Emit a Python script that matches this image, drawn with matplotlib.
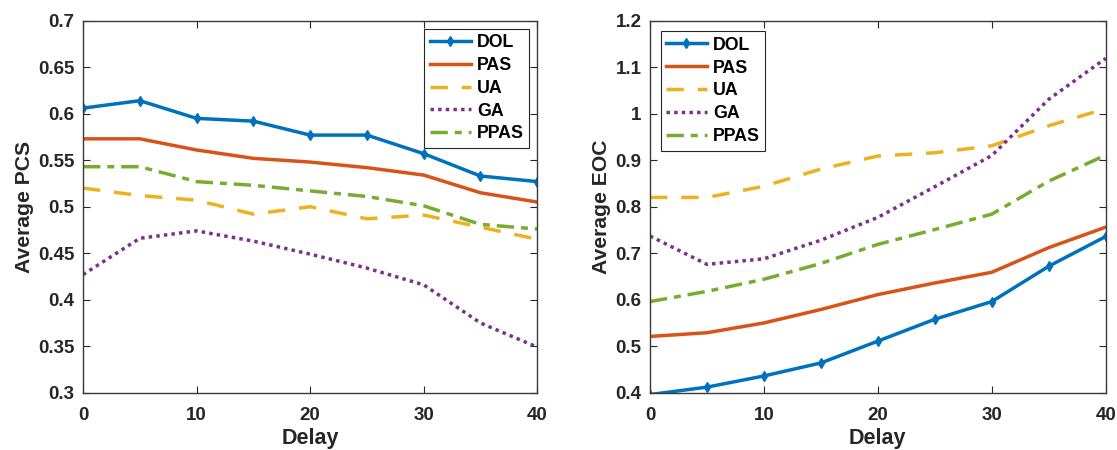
import numpy as np
import matplotlib.pyplot as plt

plt.rcParams['font.family'] = ['Liberation Sans', 'DejaVu Sans']
plt.rcParams['font.weight'] = 'bold'

delay = [0, 5, 10, 15, 20, 25, 30, 35, 40]
labels = ['DOL', 'PAS', 'UA', 'GA', 'PPAS']

# average PCS per delay
pcs_dol = [0.606, 0.614, 0.595, 0.592, 0.577, 0.577, 0.557, 0.533, 0.527]
pcs_pas = [0.573, 0.573, 0.561, 0.552, 0.548, 0.542, 0.534, 0.515, 0.505]
pcs_ua = [0.520, 0.512, 0.507, 0.492, 0.500, 0.487, 0.491, 0.478, 0.465]
pcs_ga = [0.427, 0.466, 0.474, 0.463, 0.449, 0.434, 0.416, 0.375, 0.349]
pcs_ppas = [0.543, 0.543, 0.527, 0.523, 0.517, 0.511, 0.501, 0.481, 0.476]

# average EOC per delay
eoc_dol = [0.396, 0.412, 0.436, 0.464, 0.511, 0.558, 0.596, 0.672, 0.736]
eoc_pas = [0.521, 0.529, 0.550, 0.579, 0.611, 0.636, 0.659, 0.712, 0.756]
eoc_ua = [0.820, 0.820, 0.844, 0.881, 0.909, 0.916, 0.931, 0.974, 1.011]
eoc_ga = [0.737, 0.676, 0.688, 0.728, 0.777, 0.843, 0.910, 1.031, 1.119]
eoc_ppas = [0.596, 0.618, 0.644, 0.678, 0.719, 0.751, 0.784, 0.855, 0.911]

colors = ['#0072BD', '#D95319', '#EDB120', '#7E2F8E', '#77AC30']
styles = [dict(ls='-', marker='d', ms=5),
          dict(ls='-'),
          dict(ls=(0, (5, 4))),
          dict(ls=(0, (1, 1.2))),
          dict(ls=(0, (5, 2, 2, 2)))]

fig = plt.figure(figsize=(11.17, 4.5), dpi=100)
ax1 = fig.add_axes([0.0743, 0.1273, 0.4067, 0.8267])
ax2 = fig.add_axes([0.5819, 0.1273, 0.4080, 0.8267])


def draw(ax, series, ylabel, ylim, yticks, legend_loc, legend_pad):
    for y, lab, c, st in zip(series, labels, colors, styles):
        ax.plot(delay, y, color=c, lw=2.5, label=lab, **st)
    ax.set_xlim(0, 40)
    ax.set_ylim(*ylim)
    ax.set_xticks([0, 10, 20, 30, 40])
    ax.set_yticks(yticks)
    ax.set_yticklabels(['%g' % t for t in yticks])
    ax.tick_params(direction='in', top=True, right=True, labelsize=13.5,
                   length=5, width=0.8, colors='#262626')
    ax.tick_params(axis='x', pad=10.5)
    ax.tick_params(axis='y', pad=6)
    for s in ax.spines.values():
        s.set_color('#3a3a3a')
        s.set_linewidth(1.0)
    ax.set_xlabel('Delay', fontsize=15.5, fontweight='bold', labelpad=3,
                  color='#262626')
    ax.set_ylabel(ylabel, fontsize=15.2, fontweight='bold', labelpad=3,
                  color='#262626')
    leg = ax.legend(loc=legend_loc, fontsize=12.8, fancybox=False,
                    handlelength=2.3, handletextpad=0.35, labelspacing=0.33,
                    borderpad=0.3, borderaxespad=legend_pad)
    leg.get_frame().set_edgecolor('#262626')
    leg.get_frame().set_linewidth(0.8)
    leg.get_frame().set_alpha(1)


draw(ax1, [pcs_dol, pcs_pas, pcs_ua, pcs_ga, pcs_ppas], 'Average PCS',
     (0.3, 0.7), np.round(np.arange(0.3, 0.701, 0.05), 2), 'upper right', 0.45)
draw(ax2, [eoc_dol, eoc_pas, eoc_ua, eoc_ga, eoc_ppas], 'Average EOC',
     (0.4, 1.2), np.round(np.arange(0.4, 1.201, 0.1), 1), 'upper left', 0.6)

plt.savefig('out.png', dpi=100)
